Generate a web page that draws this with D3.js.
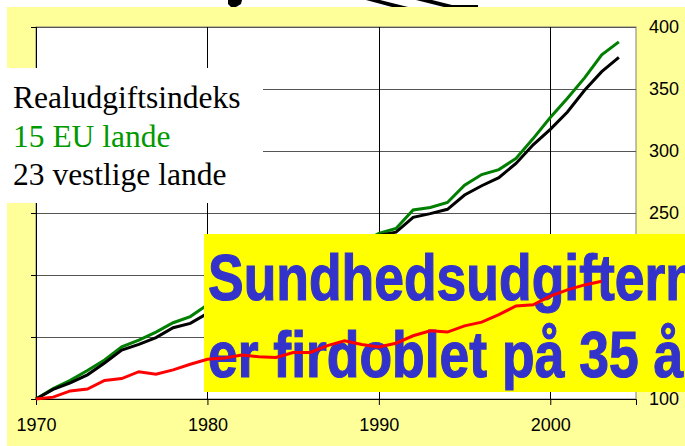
<!DOCTYPE html>
<html>
<head>
<meta charset="utf-8">
<script src="https://cdn.jsdelivr.net/npm/d3@7"></script>
<style>
  body { margin: 0; background: #fff; }
  svg { display: block; }
</style>
</head>
<body>
<svg id="chart" width="685" height="446"></svg>
<script>
// years on the x axis
const years = [1970, 1971, 1972, 1973, 1974, 1975, 1976, 1977, 1978, 1979,
  1980, 1981, 1982, 1983, 1984, 1985, 1986, 1987, 1988, 1989,
  1990, 1991, 1992, 1993, 1994, 1995, 1996, 1997, 1998, 1999,
  2000, 2001, 2002, 2003, 2004];

// real expenditure index, 15 EU countries (green)
const eu15 = [100, 108.5, 115, 123, 131.5, 142, 147.5, 154, 161.5, 166.5,
  176, 181, 186, 190, 195, 200, 206, 213, 219, 226,
  233.5, 237.5, 252.5, 254.5, 258.5, 272.5, 281, 285, 294, 310,
  327, 342.5, 359, 377.5, 388];

// 23 western countries (black)
const west23 = [100, 107.8, 113, 119.5, 129, 139.5, 144, 149.5, 157.5, 161,
  169, 175, 180, 185, 190, 195, 201, 208, 215, 223,
  232, 234.5, 246.5, 249.5, 253, 264.5, 272, 278.5, 290, 305,
  317.5, 331.5, 349, 364, 375.5];

// red series, ends 2003
const redSeries = [100, 101.5, 106.5, 108, 115, 116.5, 122, 120, 123.5, 128,
  132, 133, 135.5, 134, 133.5, 137.5, 137.5, 143, 147, 144,
  142, 145, 151, 155, 154, 159, 162, 168, 175, 176,
  183, 188, 192, 195];

const xTicks = [1970, 1980, 1990, 2000];
const yTicks = [100, 150, 200, 250, 300, 350, 400];

const legendLines = ["Realudgiftsindeks", "15 EU lande", "23 vestlige lande"];
const headline = ["Sundhedsudgifterne", "er firdoblet på 35 år"];

const svg = d3.select("#chart");
const plot = { left: 36, right: 636, top: 27, bottom: 399 };

const x = d3.scaleLinear().domain([1970, 2005]).range([plot.left, plot.right]);
const y = d3.scaleLinear().domain([100, 400]).range([plot.bottom, plot.top]);

// pale yellow slide background
svg.append("rect").attr("x", 7).attr("y", 7).attr("width", 678).attr("height", 439)
  .attr("fill", "#ffff99");

// clipart scraps at the top edge
svg.append("path").attr("d", "M228,0 L242,0 L241,4 L236,7 L231,7 L228,4 Z").attr("fill", "#000");
svg.append("path").attr("d", "M366,0 L380,0 L408,7 L392,7 Z").attr("fill", "#000");
svg.append("path").attr("d", "M416,0 L432,0 L452,5 L478,5 L478,7 L444,7 Z").attr("fill", "#000");

// plot area
svg.append("rect").attr("x", plot.left).attr("y", plot.top)
  .attr("width", plot.right - plot.left).attr("height", plot.bottom - plot.top)
  .attr("fill", "#fff").attr("stroke", "#808080").attr("stroke-width", 1);

// gridlines
svg.append("g").selectAll("line").data(yTicks).join("line")
  .attr("x1", plot.left).attr("x2", plot.right)
  .attr("y1", d => Math.round(y(d)) + 0.5).attr("y2", d => Math.round(y(d)) + 0.5)
  .attr("stroke", "#555").attr("stroke-width", 1);
svg.append("g").selectAll("line").data(xTicks).join("line")
  .attr("x1", d => Math.round(x(d)) + 0.5).attr("x2", d => Math.round(x(d)) + 0.5)
  .attr("y1", plot.top).attr("y2", plot.bottom)
  .attr("stroke", "#000").attr("stroke-width", 1);

// axes
const axisFont = "Liberation Sans, Arial, sans-serif";
const gx = svg.append("g").attr("transform", `translate(0,${plot.bottom})`)
  .call(d3.axisBottom(x).tickValues(xTicks).tickFormat(d3.format("d")).tickSize(6).tickPadding(13));
const gl = svg.append("g").attr("transform", `translate(${plot.left},0)`)
  .call(d3.axisLeft(y).tickValues(yTicks).tickFormat("").tickSize(5));
const gr = svg.append("g").attr("transform", `translate(${plot.right},0)`)
  .call(d3.axisRight(y).tickValues(yTicks).tickSize(0).tickPadding(13));
gr.select(".domain").remove();
[gx, gl, gr].forEach(g => {
  g.selectAll("path.domain").attr("stroke", "#000");
  g.selectAll(".tick line").attr("stroke", "#000");
  g.selectAll("text").attr("font-family", axisFont).attr("font-size", 18).attr("fill", "#000");
});

const line = d3.line().x((d, i) => x(years[i])).y(d => y(d));

svg.append("path").datum(eu15).attr("d", line)
  .attr("fill", "none").attr("stroke", "#007f00").attr("stroke-width", 3);
svg.append("path").datum(west23).attr("d", line)
  .attr("fill", "none").attr("stroke", "#000").attr("stroke-width", 3);

// legend block
svg.append("rect").attr("x", 0).attr("y", 68).attr("width", 263).attr("height", 135).attr("fill", "#fff");
svg.append("g").selectAll("text").data(legendLines).join("text")
  .attr("x", 13).attr("y", (d, i) => [108, 147, 185][i])
  .attr("font-family", "Liberation Serif, Times New Roman, serif")
  .attr("font-size", 31.5)
  .attr("fill", (d, i) => i === 1 ? "#009900" : "#000")
  .text(d => d);

// headline box
const headFont = "Liberation Sans Narrow, Arial Narrow, Liberation Sans, Arial, sans-serif";
svg.append("rect").attr("x", 204).attr("y", 234).attr("width", 481).attr("height", 158).attr("fill", "#ffff00");
const head = svg.append("g");
head.selectAll("text").data(headline).join("text")
  .attr("x", 0).attr("y", (d, i) => [300, 377][i])
  .attr("font-family", headFont)
  .attr("font-weight", "bold").attr("font-size", 64)
  .attr("fill", "#3333cc").attr("stroke", "#3333cc").attr("stroke-width", 1.2)
  .text(d => d);
// squeeze to the width of the original condensed face
const probe = head.append("text").attr("font-family", headFont)
  .attr("font-weight", "bold").attr("font-size", 64).text("Sundhedsudgiftern");
const sx = 490 / probe.node().getComputedTextLength();
probe.remove();
head.attr("transform", `translate(208,0) scale(${sx},1)`);

svg.append("path").datum(redSeries).attr("d", line)
  .attr("fill", "none").attr("stroke", "#ff0000").attr("stroke-width", 3);
</script>
</body>
</html>
